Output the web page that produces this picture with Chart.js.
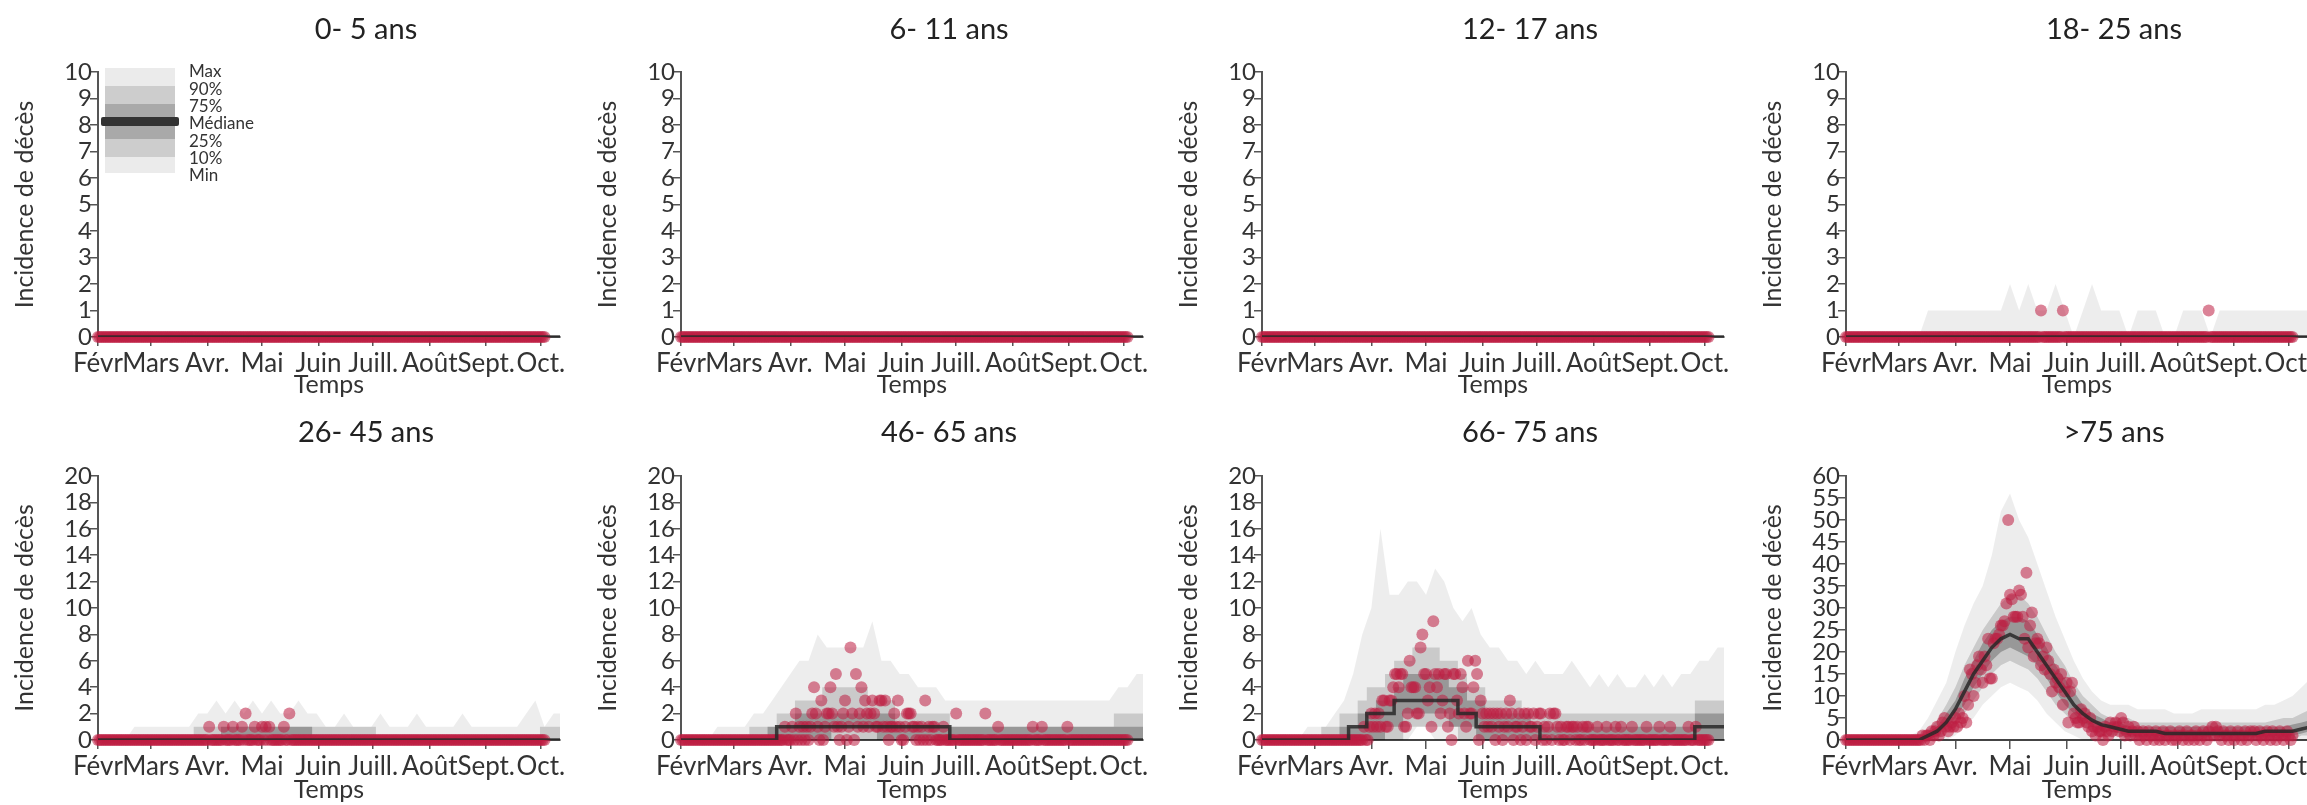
<!DOCTYPE html>
<html lang="fr">
<head>
<meta charset="utf-8">
<title>Incidence de décès par classe d'âge</title>
<script src="https://cdn.jsdelivr.net/npm/chart.js@4.4.1/dist/chart.umd.min.js"></script>
<style>
html,body{margin:0;padding:0;background:#fff;}
#root{position:relative;width:2307px;height:805px;overflow:hidden;background:#fff;font-family:Lato,"Open Sans",sans-serif;}
#root canvas{position:absolute;}
.ptitle{position:absolute;font-size:29px;color:#222;transform:translate(-50%,-50%);white-space:nowrap;line-height:1;}
.lg{position:absolute;}
.lgt{position:absolute;font-size:17px;color:#333;transform:translateY(-50%);white-space:nowrap;line-height:1;}
</style>
</head>
<body>
<div id="root"></div>
<script>
// ---------------- data ----------------
const monthLabels = ['Févr','Mars','Avr.','Mai','Juin','Juill.','Août','Sept.','Oct.'];
const monthTickDays = [0,29,60,90,121,151,182,213,243];   // days since 1 Feb
const bandDays = [0,5,10,15,20,25,30,35,40,45,50,55,60,65,70,75,80,85,90,95,100,105,110,115,120,125,130,135,140,145,150,155,160,165,170,175,180,185,190,195,200,205,210,215,220,225,230,235,240,245,250,255];
const panelTitles = ['0- 5 ans','6- 11 ans','12- 17 ans','18- 25 ans','26- 45 ans','46- 65 ans','66- 75 ans','>75 ans'];
const panelYMax = [10,10,10,10,20,20,20,60];
const panelYStep = [1,1,1,1,2,2,2,5];
const legendLabels = ['Max','90%','75%','Médiane','25%','10%','Min'];

// observed daily deaths (day 0 = 1 Feb)
const obsZero = [
0,0,0,0,0,0,0,0,0,0, 0,0,0,0,0,0,0,0,0,0, 0,0,0,0,0,0,0,0,0,0, 0,0,0,0,0,0,0,0,0,0,
0,0,0,0,0,0,0,0,0,0, 0,0,0,0,0,0,0,0,0,0, 0,0,0,0,0,0,0,0,0,0, 0,0,0,0,0,0,0,0,0,0,
0,0,0,0,0,0,0,0,0,0, 0,0,0,0,0,0,0,0,0,0, 0,0,0,0,0,0,0,0,0,0, 0,0,0,0,0,0,0,0,0,0,
0,0,0,0,0,0,0,0,0,0, 0,0,0,0,0,0,0,0,0,0, 0,0,0,0,0,0,0,0,0,0, 0,0,0,0,0,0,0,0,0,0,
0,0,0,0,0,0,0,0,0,0, 0,0,0,0,0,0,0,0,0,0, 0,0,0,0,0,0,0,0,0,0, 0,0,0,0,0,0,0,0,0,0,
0,0,0,0,0,0,0,0,0,0, 0,0,0,0,0,0,0,0,0,0, 0,0,0,0,0,0,0,0,0,0, 0,0,0,0,0,0,0,0,0,0,
0,0,0,0,0,0];
const obs18_25 = [
0,0,0,0,0,0,0,0,0,0, 0,0,0,0,0,0,0,0,0,0, 0,0,0,0,0,0,0,0,0,0, 0,0,0,0,0,0,0,0,0,0,
0,0,0,0,0,0,0,0,0,0, 0,0,0,0,0,0,0,0,0,0, 0,0,0,0,0,0,0,0,0,0, 0,0,0,0,0,0,0,0,0,0,
0,0,0,0,0,0,0,0,0,0, 0,0,0,0,0,0,0,0,0,0, 0,0,0,0,0,0,0,1,0,0, 0,0,0,0,0,0,0,0,0,1,
0,0,0,0,0,0,0,0,0,0, 0,0,0,0,0,0,0,0,0,0, 0,0,0,0,0,0,0,0,0,0, 0,0,0,0,0,0,0,0,0,0,
0,0,0,0,0,0,0,0,0,0, 0,0,0,0,0,0,0,0,0,0, 0,0,0,0,0,0,0,0,0,0, 0,0,0,0,0,0,0,0,0,1,
0,0,0,0,0,0,0,0,0,0, 0,0,0,0,0,0,0,0,0,0, 0,0,0,0,0,0,0,0,0,0, 0,0,0,0,0,0,0,0,0,0,
0,0,0,0,0,0];
const obs26_45 = [
0,0,0,0,0,0,0,0,0,0, 0,0,0,0,0,0,0,0,0,0, 0,0,0,0,0,0,0,0,0,0, 0,0,0,0,0,0,0,0,0,0,
0,0,0,0,0,0,0,0,0,0, 0,0,0,0,0,0,0,0,0,0, 0,1,0,0,0,0,0,0,0,1, 0,0,0,0,1,0,0,0,0,1,
0,2,0,0,0,0,1,0,0,0, 1,0,1,0,1,0,0,0,0,0, 0,0,1,0,0,2,0,0,0,0, 0,0,0,0,0,0,0,0,0,0,
0,0,0,0,0,0,0,0,0,0, 0,0,0,0,0,0,0,0,0,0, 0,0,0,0,0,0,0,0,0,0, 0,0,0,0,0,0,0,0,0,0,
0,0,0,0,0,0,0,0,0,0, 0,0,0,0,0,0,0,0,0,0, 0,0,0,0,0,0,0,0,0,0, 0,0,0,0,0,0,0,0,0,0,
0,0,0,0,0,0,0,0,0,0, 0,0,0,0,0,0,0,0,0,0, 0,0,0,0,0,0,0,0,0,0, 0,0,0,0,0,0,0,0,0,0,
0,0,0,0,0,0];
const obs46_65 = [
0,0,0,0,0,0,0,0,0,0, 0,0,0,0,0,0,0,0,0,0, 0,0,0,0,0,0,0,0,0,0, 0,0,0,0,0,0,0,0,0,0,
0,0,0,0,0,0,0,0,0,0, 0,0,0,0,0,0,0,1,0,0, 0,1,0,2,0,1,0,1,0,1, 0,1,2,4,2,1,0,3,0,1,
2,2,4,2,1,5,1,0,1,2, 3,0,1,7,2,0,5,1,2,4, 1,3,2,1,2,3,2,1,1,3, 3,1,3,1,0,1,1,2,1,3,
1,0,0,1,2,2,2,1,1,0, 1,0,1,0,3,0,1,0,1,1, 0,0,0,0,1,0,0,0,0,0, 0,2,0,0,0,0,0,0,0,0,
0,0,0,0,0,0,0,2,0,0, 0,0,0,0,1,0,0,0,0,0, 0,0,0,0,0,0,0,0,0,0, 0,0,0,1,0,0,0,0,1,0,
0,0,0,0,0,0,0,0,0,0, 0,0,1,0,0,0,0,0,0,0, 0,0,0,0,0,0,0,0,0,0, 0,0,0,0,0,0,0,0,0,0,
0,0,0,0,0,0];
const obs66_75 = [
0,0,0,0,0,0,0,0,0,0, 0,0,0,0,0,0,0,0,0,0, 0,0,0,0,0,0,0,0,0,0, 0,0,0,0,0,0,0,0,0,0,
0,0,0,0,0,0,0,0,0,0, 0,0,0,0,0,0,1,0,0,1, 2,1,2,1,2,1,3,3,1,1, 3,3,4,5,5,4,5,5,1,1,
2,6,4,4,4,2,2,7,8,5, 5,3,4,1,9,5,4,5,2,3, 5,5,1,2,0,5,5,3,2,5, 4,2,1,6,2,2,4,6,5,0,
3,2,1,2,1,2,1,2,0,2, 1,2,0,1,2,1,3,2,0,1, 1,2,0,1,2,0,2,1,1,2, 0,1,2,2,0,1,0,1,2,0,
2,2,1,0,1,0,0,1,1,0, 1,1,0,1,0,0,1,0,1,1, 0,0,0,0,1,0,0,0,0,1, 0,0,0,0,1,0,0,1,0,0,
0,0,0,1,0,0,0,0,0,0, 0,1,0,0,0,0,0,0,1,0, 0,0,0,0,1,0,0,0,0,0, 0,0,0,0,1,0,0,0,1,0,
0,0,0,0,0,0];
const obs75p = [
0,0,0,0,0,0,0,0,0,0, 0,0,0,0,0,0,0,0,0,0, 0,0,0,0,0,0,0,0,0,0, 0,0,0,0,0,0,0,0,0,0,
0,0,1,0,1,1,0,2,1,2, 3,1,2,4,5,3,2,3,4,3, 5,3,6,4,5,10,4,8,16,15, 10,13,17,19,16,13,19,17,23,14,
14,22,23,23,24,26,26,27,31,50, 33,32,28,28,28,34,33,28,23,38, 21,26,29,19,22,23,22,17,19,16, 21,18,15,11,16,13,14,12,15,8,
11,13,4,11,13,6,5,4,4,7, 5,6,4,3,5,2,3,1,3,2, 2,0,3,2,1,4,2,3,4,3, 2,5,4,1,2,3,1,2,3,1,
2,0,1,2,1,0,2,1,1,0, 2,1,0,1,2,0,1,1,2,0, 1,0,1,2,1,0,1,2,0,1, 1,0,2,1,0,1,2,1,0,2,
1,3,1,3,2,1,0,2,1,1, 0,2,1,0,1,2,1,0,1,2, 0,1,2,1,2,0,1,2,1,0, 1,2,1,0,2,1,0,1,2,1,
0,1,2,1,0,1];

// simulated distribution (5-day grid on bandDays)
const zeros52 = [0,0,0,0,0,0,0,0,0,0, 0,0,0,0,0,0,0,0,0,0, 0,0,0,0,0,0,0,0,0,0, 0,0,0,0,0,0,0,0,0,0, 0,0,0,0,0,0,0,0,0,0, 0,0];

const p4_max = [0,0,0,0,0,0,0,0,0,1, 1,1,1,1,1,1,1,1,2,1, 2,1,1,2,1,0,1,2,1,1, 1,0,1,1,1,0,0,1,1,1, 0,1,1,1,1,1,1,1,1,1, 1,1];

const p5_max = [0,0,0,0,1,1,1,1,1,1, 1,2,2,3,2,3,2,3,2,3, 2,2,3,2,2,1,1,2,1,1, 1,2,1,1,1,2,1,1,1,1, 2,1,1,1,1,1,1,2,3,1, 2,2];
const p5_p90 = [0,0,0,0,0,0,0,0,0,0, 0,1,1,1,1,1,1,1,1,1, 1,1,1,1,1,1,1,1,1,1, 1,0,0,0,0,0,0,0,0,0, 0,0,0,0,0,0,0,0,0,1, 1,1];
const p5_p75 = [0,0,0,0,0,0,0,0,0,0, 0,0,0,0,1,1,1,1,1,1, 1,1,1,1,0,0,0,0,0,0, 0,0,0,0,0,0,0,0,0,0, 0,0,0,0,0,0,0,0,0,0, 0,0];

const p6_max    = [0,0,0,0,1,1,1,1,2,2, 3,4,5,6,6,8,7,7,7,7, 7,9,6,6,5,5,4,4,4,3, 3,3,3,3,3,3,3,3,3,3, 3,3,3,3,3,3,3,3,4,4, 5,5];
const p6_p90    = [0,0,0,0,0,0,0,0,1,1, 1,2,2,3,3,3,4,4,4,4, 4,3,3,3,2,2,2,2,2,2, 1,1,1,1,1,1,1,1,1,1, 1,1,1,1,1,1,1,1,2,2, 2,2];
const p6_p75    = [0,0,0,0,0,0,0,0,0,0, 1,1,1,2,2,2,2,2,2,2, 2,2,2,2,1,1,1,1,1,1, 1,1,1,1,1,1,1,1,1,1, 1,1,1,1,1,1,1,1,1,1, 1,1];
const p6_median = [0,0,0,0,0,0,0,0,0,0, 0,1,1,1,1,1,1,1,1,1, 1,1,1,1,1,1,1,1,1,1, 0,0,0,0,0,0,0,0,0,0, 0,0,0,0,0,0,0,0,0,0, 0,0];
const p6_p25    = [0,0,0,0,0,0,0,0,0,0, 0,0,0,0,0,0,0,1,1,1, 1,1,0,0,0,0,0,0,0,0, 0,0,0,0,0,0,0,0,0,0, 0,0,0,0,0,0,0,0,0,0, 0,0];

const p7_max    = [0,0,0,0,0,1,1,1,2,3, 5,8,10,16,11,11,12,12,11,13, 12,10,9,10,8,7,7,6,6,5, 6,5,5,5,6,5,4,5,4,5, 4,4,5,4,5,4,5,5,6,6, 7,7];
const p7_p90    = [0,0,0,0,0,0,0,1,1,2, 2,3,4,4,5,6,6,7,7,7, 6,6,5,4,4,3,3,3,3,2, 2,2,2,2,2,2,2,2,2,2, 2,2,2,2,2,2,2,2,3,3, 3,3];
const p7_p75    = [0,0,0,0,0,0,0,0,0,1, 1,2,2,3,3,4,5,5,5,5, 5,4,4,3,3,2,2,2,2,2, 1,1,1,1,1,1,1,1,1,1, 1,1,1,1,1,1,1,1,2,2, 2,2];
const p7_median = [0,0,0,0,0,0,0,0,0,0, 1,1,2,2,2,3,3,3,3,3, 3,3,2,2,1,1,1,1,1,1, 1,0,0,0,0,0,0,0,0,0, 0,0,0,0,0,0,0,0,1,1, 1,1];
const p7_p25    = [0,0,0,0,0,0,0,0,0,0, 0,0,0,0,1,1,2,2,2,2, 2,1,1,1,0,0,0,0,0,0, 0,0,0,0,0,0,0,0,0,0, 0,0,0,0,0,0,0,0,0,0, 0,0];
const p7_p10    = [0,0,0,0,0,0,0,0,0,0, 0,0,0,0,0,0,1,1,1,1, 1,1,0,0,0,0,0,0,0,0, 0,0,0,0,0,0,0,0,0,0, 0,0,0,0,0,0,0,0,0,0, 0,0];
const p7_min    = [0,0,0,0,0,0,0,0,0,0, 0,0,0,0,0,0,0,1,1,0, 0,0,0,0,0,0,0,0,0,0, 0,0,0,0,0,0,0,0,0,0, 0,0,0,0,0,0,0,0,0,0, 0,0];

const p8_max    = [0,0,0,0,0,0,0,1,2,5, 9,13,20,26,31,35,42,52,56,50, 46,40,34,28,23,18,14,11,9,8, 8,8,7,7,7,7,6,6,6,7, 7,7,7,7,7,7,8,8,9,10, 12,14];
const p8_p90    = [0,0,0,0,0,0,0,0,0.5,2.5, 4.5,8,12,17,21,25,28,31,33,33, 31,28,24,20,17,13,10,8,6,5, 5,5,4,4,4,4,4,4,4,4, 4,4,4,4,4,4,4,4.5,5,5, 6,7];
const p8_p75    = [0,0,0,0,0,0,0,0,0,2, 3,6,9,14,18,22,25,27,28,28, 27,24,21,17,14,11,8,6,5,4, 4,3,3,3,3,3,3,3,3,3, 3,3,3,3,3,3,3,3,3,3.5, 4,4.5];
const p8_median = [0,0,0,0,0,0,0,0,0,1, 2,4,7,11,15,18,21,23,24,23, 23,20,17,14,11,8,6,4.5,3.5,3, 2.5,2,2,2,2,1.5,1.5,1.5,1.5,1.5, 1.5,1.5,1.5,1.5,1.5,1.5,2,2,2,2, 2.5,3];
const p8_p25    = [0,0,0,0,0,0,0,0,0,0, 1,3,5,8,12,15,18,20,21,20, 19,17,14,11,8,6,4,3,2,2, 1.5,1,1,1,1,1,1,1,1,1, 1,1,1,1,1,1,1,1,1,1, 1.5,2];
const p8_p10    = [0,0,0,0,0,0,0,0,0,0, 0,2,4,6,9,12,15,17,18,17, 16,14,11,8,6,4,3,2,1,1, 1,0,0,0,0,0,0,0,0,0, 0,0,0,0,0,0,0,0,0,0, 1,1];
const p8_min    = [0,0,0,0,0,0,0,0,0,0, 0,0,1,3,5,8,10,12,13,12, 11,9,6,4,2,1,0,0,0,0, 0,0,0,0,0,0,0,0,0,0, 0,0,0,0,0,0,0,0,0,0, 0,0];

const panelObs = [obsZero, obsZero, obsZero, obs18_25, obs26_45, obs46_65, obs66_75, obs75p];
const panelBands = [
  {median: zeros52},
  {median: zeros52},
  {median: zeros52},
  {min: zeros52, p10: zeros52, p25: zeros52, median: zeros52, p75: zeros52, p90: zeros52, max: p4_max},
  {min: zeros52, p10: zeros52, p25: zeros52, median: zeros52, p75: p5_p75, p90: p5_p90, max: p5_max},
  {min: zeros52, p10: zeros52, p25: p6_p25, median: p6_median, p75: p6_p75, p90: p6_p90, max: p6_max},
  {min: p7_min, p10: p7_p10, p25: p7_p25, median: p7_median, p75: p7_p75, p90: p7_p90, max: p7_max},
  {min: p8_min, p10: p8_p10, p25: p8_p25, median: p8_median, p75: p8_p75, p90: p8_p90, max: p8_max}
];

// ---------------- layout / style ----------------
const AXIS_X = [98, 681, 1262, 1846];
const ROW_TOP = [0, 400];
const ROW_H = [400, 405];
const PLOT_TOP = [72, 76];
const PLOT_BOTTOM = [337, 340];
const Y_BOX = 98, PLOT_W = 462, CANVAS_W = 580;
const X_END = 253.5;
const STEPPED = [false, false, false, 'middle', 'middle', 'middle', 'middle', false];
const FONT = 'Lato, "Open Sans", sans-serif';

Chart.defaults.font.family = FONT;
const root = document.getElementById('root');

function xy(days, vals) { return vals.map((v, i) => ({x: days[i], y: v})); }

function bandDs(label, vals, fillColor, stepped) {
  return {
    label, data: xy(bandDays, vals), borderWidth: 0, borderColor: 'rgba(0,0,0,0)',
    pointRadius: 0, pointHoverRadius: 0, stepped,
    fill: fillColor ? '+1' : false, backgroundColor: fillColor || 'rgba(0,0,0,0)'
  };
}

panelTitles.forEach((title, p) => {
  const row = p < 4 ? 0 : 1, col = p % 4;
  const ax = AXIS_X[col];
  const cv = document.createElement('canvas');
  cv.width = CANVAS_W; cv.height = ROW_H[row];
  cv.style.left = (ax - Y_BOX) + 'px';
  cv.style.top = ROW_TOP[row] + 'px';
  cv.style.width = CANVAS_W + 'px'; cv.style.height = ROW_H[row] + 'px';
  root.appendChild(cv);

  const t = document.createElement('div');
  t.className = 'ptitle';
  t.textContent = title;
  t.style.left = (ax + 268) + 'px';
  t.style.top = (ROW_TOP[row] + (row ? 30 : 27)) + 'px';
  root.appendChild(t);

  const b = panelBands[p], st = STEPPED[p];
  const datasets = [{
    label: 'Médiane', data: xy(bandDays, b.median), borderColor: 'rgba(40,40,40,0.85)',
    borderWidth: 3.5, pointRadius: 0, pointHoverRadius: 0, fill: false, stepped: st
  }, {
    label: 'Observé', data: panelObs[p].map((v, i) => ({x: i, y: v})),
    showLine: false, pointRadius: 6, pointHoverRadius: 6,
    pointBackgroundColor: 'rgba(190,30,65,0.55)', pointBorderWidth: 0,
    borderWidth: 0, clip: false
  }];
  if (b.max) {
    datasets.push(bandDs('75%', b.p75, 'rgba(0,0,0,0.25)', st));
    datasets.push(bandDs('25%', b.p25, null, st));
    datasets.push(bandDs('90%', b.p90, 'rgba(0,0,0,0.15)', st));
    datasets.push(bandDs('10%', b.p10, null, st));
    datasets.push(bandDs('Max', b.max, 'rgba(0,0,0,0.07)', false));
    datasets.push(bandDs('Min', b.min, null, false));
  }

  const xH = ROW_H[row] - PLOT_BOTTOM[row];
  new Chart(cv, {
    type: 'line',
    data: {datasets},
    options: {
      responsive: false, animation: false, devicePixelRatio: 1, events: [],
      layout: {padding: {top: PLOT_TOP[row], right: CANVAS_W - Y_BOX - PLOT_W, bottom: 0, left: 0}},
      plugins: {legend: {display: false}, tooltip: {enabled: false}, title: {display: false}},
      scales: {
        x: {
          type: 'linear', min: 0, max: X_END,
          afterBuildTicks: s => { s.ticks = monthTickDays.map(v => ({value: v})); },
          afterFit: s => { s.height = xH; },
          ticks: {autoSkip: false, maxRotation: 0, minRotation: 0, padding: 2,
                  callback: (v, i) => monthLabels[i], color: '#333', font: {size: 26}},
          grid: {display: true, drawOnChartArea: false, drawTicks: true, tickLength: 9, color: '#555', lineWidth: 1.5},
          border: {display: true, color: '#444', width: 2},
          title: {display: true, text: 'Temps', color: '#333', font: {size: 25}, padding: 0}
        },
        y: {
          min: 0, max: panelYMax[p],
          afterFit: s => { s.width = Y_BOX; },
          ticks: {stepSize: panelYStep[p], autoSkip: false, padding: -2, color: '#333', font: {size: 24}},
          grid: {display: true, drawOnChartArea: false, drawTicks: true, tickLength: 8, color: '#555', lineWidth: 1.5},
          border: {display: true, color: '#555', width: 2},
          title: {display: true, text: 'Incidence de décès', color: '#333', font: {size: 25}, padding: {top: 10, bottom: 0}}
        }
      }
    }
  });
});

// ---------------- legend (panel 1) ----------------
function box(l, t, w, h, c, r) {
  const d = document.createElement('div');
  d.className = 'lg';
  Object.assign(d.style, {left: l + 'px', top: t + 'px', width: w + 'px', height: h + 'px', background: c, borderRadius: (r || 0) + 'px'});
  root.appendChild(d);
}
box(105, 68, 70, 105, '#ebebeb');
box(105, 86, 70, 71, '#cdcdcd');
box(105, 104, 70, 35, '#a9a9a9');
box(101, 117, 78, 9, '#333', 2);
const legendY = [70, 88, 105, 122, 140, 157, 174];
legendLabels.forEach((txt, i) => {
  const d = document.createElement('div');
  d.className = 'lgt';
  d.textContent = txt;
  d.style.left = '189px';
  d.style.top = legendY[i] + 'px';
  root.appendChild(d);
});
</script>
</body>
</html>
